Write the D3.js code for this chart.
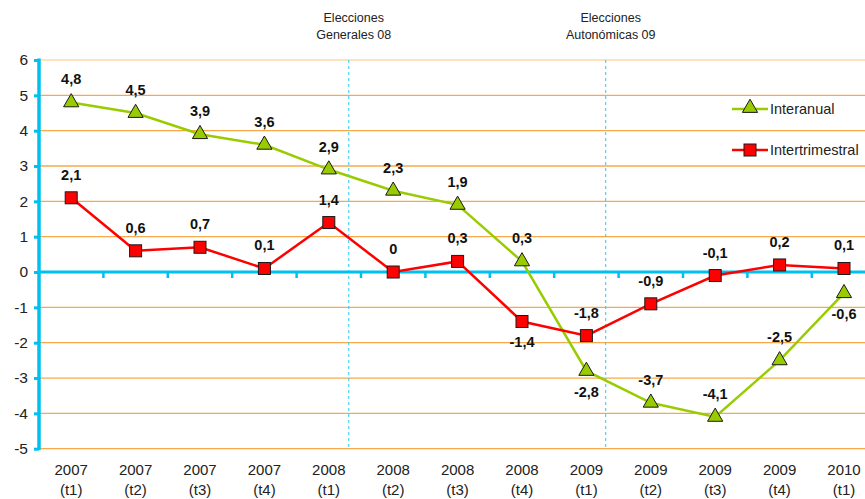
<!DOCTYPE html>
<html><head><meta charset="utf-8">
<script src="https://cdn.jsdelivr.net/npm/d3@7"></script>
<style>body{margin:0;background:#fff}svg{display:block;font-family:"Liberation Sans",Arial,sans-serif}</style>
</head><body><svg id="c" width="865" height="499"></svg>
<script>
const years = ["2007","2007","2007","2007","2008","2008","2008","2008","2009","2009","2009","2009","2010"];
const quarters = ["(t1)","(t2)","(t3)","(t4)","(t1)","(t2)","(t3)","(t4)","(t1)","(t2)","(t3)","(t4)","(t1)"];
const interanual = [4.8,4.5,3.9,3.6,2.9,2.3,1.9,0.3,-2.8,-3.7,-4.1,-2.5,-0.6];
const intertrimestral = [2.1,0.6,0.7,0.1,1.4,0,0.3,-1.4,-1.8,-0.9,-0.1,0.2,0.1];
const interanualBelow = [8,12];
const intertrimBelow = [7];
const yTicks = [6,5,4,3,2,1,0,-1,-2,-3,-4,-5];
const events = [{pos:4.31,lines:["Elecciones","Generales 08"]},{pos:8.3,lines:["Elecciones","Autonómicas 09"]}];

const FONT = "'Liberation Sans',Arial,sans-serif";
const svg = d3.select("#c");
const idx = d3.range(years.length);
const x = d3.scaleBand().domain(idx).range([39, 39+64.4*13]);
const xc = i => x(i)+x.bandwidth()/2;
const y = d3.scaleLinear().domain([-5,6]).range([448.7,60]);
const fmt = v => String(v).replace(".",",");

// grid
svg.append("g").selectAll("line").data(yTicks.filter(d=>d!==0)).join("line")
  .attr("x1",39).attr("x2",865).attr("y1",d=>y(d)).attr("y2",d=>y(d))
  .attr("stroke",d=>d===6?"#fbd9a8":"#f7a84a").attr("stroke-width",1.3);

// event dashed lines & text
events.forEach(e=>{
  const ex = 39 + 64.4*e.pos + 32.2;
  svg.append("line").attr("x1",ex).attr("x2",ex).attr("y1",60).attr("y2",449)
    .attr("stroke","#33c3f0").attr("stroke-width",1).attr("stroke-dasharray","3,3");
  svg.append("text").attr("x",ex+5).attr("y",22).attr("text-anchor","middle")
    .attr("font-size",12.5).attr("fill","#222").text(e.lines[0]);
  svg.append("text").attr("x",ex+5).attr("y",39).attr("text-anchor","middle")
    .attr("font-size",12.5).attr("fill","#222").text(e.lines[1]);
});

// y axis
const yAxis = d3.axisLeft(y).tickValues(yTicks).tickSize(5).tickFormat(d=>d);
const ga = svg.append("g").attr("transform","translate(39,0)").call(yAxis).attr("font-family",FONT);
ga.select(".domain").remove();
ga.selectAll(".tick line").attr("stroke","#00c0f0").attr("stroke-width",3);
ga.selectAll(".tick text").attr("font-size",15.5).attr("fill","#222").attr("x",-11);
svg.append("line").attr("x1",39).attr("x2",39).attr("y1",58.5).attr("y2",450)
  .attr("stroke","#00c0f0").attr("stroke-width",3.5);

// zero line with ticks
svg.append("line").attr("x1",39).attr("x2",865).attr("y1",y(0)).attr("y2",y(0))
  .attr("stroke","#00c0f0").attr("stroke-width",3);
svg.append("g").selectAll("line").data(d3.range(1,13)).join("line")
  .attr("x1",d=>x(d)).attr("x2",d=>x(d)).attr("y1",y(0)).attr("y2",y(0)+6)
  .attr("stroke","#00c0f0").attr("stroke-width",2.5);

// x labels
const gx = svg.append("g");
idx.forEach(i=>{
  gx.append("text").attr("x",xc(i)).attr("y",475).attr("text-anchor","middle").attr("font-size",15).attr("fill","#222").text(years[i]);
  gx.append("text").attr("x",xc(i)).attr("y",495).attr("text-anchor","middle").attr("font-size",15).attr("fill","#222").text(quarters[i]);
});

const line = d3.line().x((d,i)=>xc(i)).y(d=>y(d));
svg.append("path").datum(interanual).attr("d",line).attr("fill","none").attr("stroke","#99cc00").attr("stroke-width",2.5);
svg.append("path").datum(intertrimestral).attr("d",line).attr("fill","none").attr("stroke","#ff0000").attr("stroke-width",2.5);

const tri = d3.symbol().type(d3.symbolTriangle).size(100);
svg.append("g").selectAll("path").data(interanual).join("path")
  .attr("d",tri).attr("transform",(d,i)=>`translate(${xc(i)},${y(d)})`)
  .attr("fill","#99cc00").attr("stroke","#1a1a1a").attr("stroke-width",1);
svg.append("g").selectAll("rect").data(intertrimestral).join("rect")
  .attr("x",(d,i)=>xc(i)-6).attr("y",d=>y(d)-6).attr("width",12).attr("height",12)
  .attr("fill","#ff0000").attr("stroke","#1a1a1a").attr("stroke-width",1);

function labels(data, below){
  svg.append("g").selectAll("text").data(data).join("text")
    .attr("x",(d,i)=>xc(i)).attr("y",(d,i)=>below.includes(i)? y(d)+26 : y(d)-18)
    .attr("text-anchor","middle").attr("font-size",14.5).attr("font-weight","bold").attr("fill","#111")
    .text(d=>fmt(d));
}
labels(interanual, interanualBelow);
labels(intertrimestral, intertrimBelow);

// legend
const lg = svg.append("g");
lg.append("line").attr("x1",732).attr("x2",768).attr("y1",109).attr("y2",109).attr("stroke","#99cc00").attr("stroke-width",2.5);
lg.append("path").attr("d",tri).attr("transform","translate(750,108)").attr("fill","#99cc00").attr("stroke","#1a1a1a");
lg.append("text").attr("x",770).attr("y",114).attr("font-size",14.5).attr("fill","#222").text("Interanual");
lg.append("line").attr("x1",732).attr("x2",768).attr("y1",150).attr("y2",150).attr("stroke","#ff0000").attr("stroke-width",2.5);
lg.append("rect").attr("x",744).attr("y",144).attr("width",12).attr("height",12).attr("fill","#ff0000").attr("stroke","#1a1a1a");
lg.append("text").attr("x",770).attr("y",155).attr("font-size",14.5).attr("fill","#222").text("Intertrimestral");
</script></body></html>
